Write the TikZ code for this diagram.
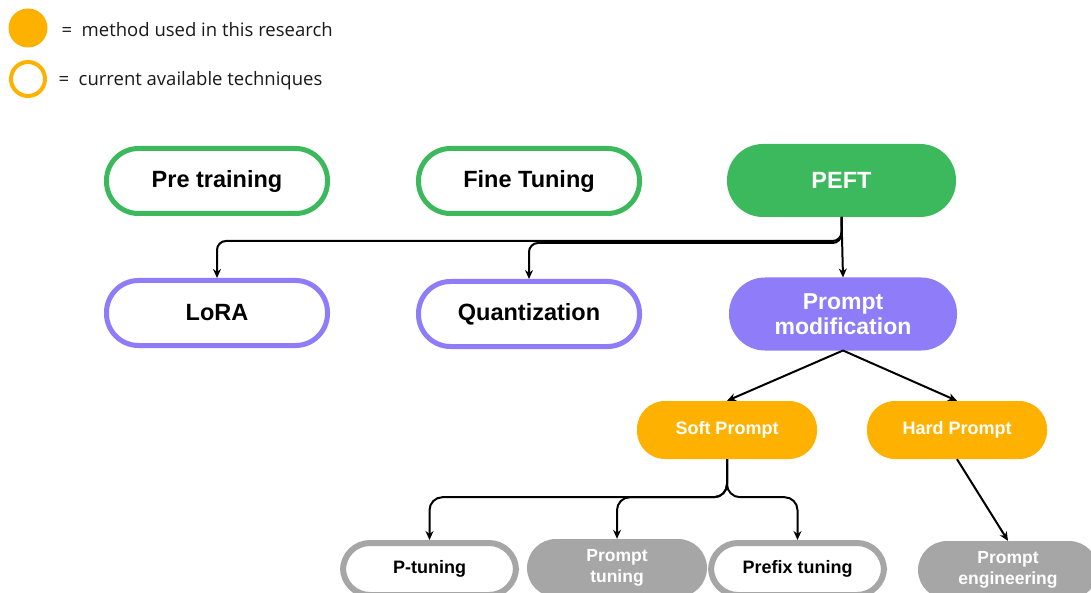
\documentclass[tikz,border=0pt]{standalone}
\usepackage{fontspec}
\setmainfont{Liberation Sans}
\newfontfamily\legendfont{Open Sans}
\usetikzlibrary{arrows.meta}
\definecolor{pgreen}{RGB}{60,185,92}
\definecolor{ppurple}{RGB}{143,124,248}
\definecolor{porange}{RGB}{255,177,0}
\definecolor{pgray}{RGB}{166,166,166}
\definecolor{ink}{RGB}{26,26,26}
\tikzset{
  bigbox/.style={rectangle, rounded corners=32pt, minimum width=221pt, minimum height=65pt,
    line width=5pt, font=\fontsize{23.5}{25}\selectfont\bfseries, align=center, fill=white},
  greenring/.style={bigbox, draw=pgreen},
  purplering/.style={bigbox, draw=ppurple},
  greenfill/.style={bigbox, line width=0pt, minimum width=229pt, minimum height=73pt,
    rounded corners=36pt, fill=pgreen, text=white},
  purplefill/.style={bigbox, line width=0pt, minimum width=228pt, minimum height=73pt,
    rounded corners=36pt, fill=ppurple, text=white, font=\fontsize{23}{25}\selectfont\bfseries},
  orangefill/.style={rectangle, rounded corners=28pt, minimum width=180pt, minimum height=58pt,
    fill=porange, text=white, font=\fontsize{18}{20}\selectfont\bfseries},
  smallbox/.style={rectangle, rounded corners=27pt, minimum width=173pt, minimum height=52pt,
    line width=6pt, draw=pgray, fill=white, font=\fontsize{18}{21}\selectfont\bfseries, align=center},
  grayfill/.style={rectangle, rounded corners=29pt, minimum width=180pt, minimum height=58pt,
    fill=pgray, text=white, font=\fontsize{17.5}{21.5}\selectfont\bfseries, align=center},
  conn/.style={line width=2pt, draw=black, -{Stealth[length=9pt,width=8pt]}},
  legendtext/.style={anchor=west, text=ink, font=\legendfont\fontsize{18.5}{21}\selectfont},
}
\begin{document}
\begin{tikzpicture}[x=1pt, y=-1pt]
\useasboundingbox[fill=white] (0,0) rectangle (1091,593);

% legend
\fill[porange] (28,28) circle (19.5);
\draw[porange, line width=4pt] (28,79) circle (17);
\node[legendtext] (l1) at (58,30) {=\ \ method used in this research};
\node[legendtext] (l2) at (55,80.5) {=\ \ current available techniques};

% first row
\node[greenring] (pre) at (217,181) {Pre training};
\node[greenring] (fine) at (529,181) {Fine Tuning};
\node[greenfill] (peft) at (841.5,180.5) {PEFT};

% second row
\node[purplering] (lora) at (217,313) {LoRA};
\node[purplering] (quant) at (529,314) {Quantization};
\node[purplefill] (pm) at (843,314) {Prompt\\modification};

% prompt types
\node[orangefill] (soft) at (727,430) {Soft Prompt};
\node[orangefill] (hard) at (957,430) {Hard Prompt};

% leaves
\node[smallbox] (ptun) at (429.5,569) {P-tuning};
\node[grayfill] (prt) at (617,568) {Prompt\\tuning};
\node[smallbox] (pfx) at (797.5,569) {Prefix tuning};
\node[grayfill] (peng) at (1008,570) {Prompt\\engineering};

% connectors from PEFT
\draw[conn, rounded corners=9pt] (peft.south) -- ++(0,24) -| (lora.north);
\draw[conn, rounded corners=9pt] (peft.south) -- ++(0,26) -| (quant.north);
\draw[conn] (peft.south) -- (pm.north);

% connectors from prompt modification
\draw[conn] (pm.south) -- (soft.north);
\draw[conn] (pm.south) -- (hard.north);

% connectors from soft prompt
\draw[conn, rounded corners=13pt] (soft.south) -- ++(0,38) -| (ptun.north);
\draw[conn, rounded corners=13pt] (soft.south) -- ++(0,38) -| (prt.north);
\draw[conn, rounded corners=13pt] (soft.south) -- ++(0,38) -| (pfx.north);

% connector from hard prompt
\draw[conn] (hard.south) -- (peng.north);
\end{tikzpicture}
\end{document}
